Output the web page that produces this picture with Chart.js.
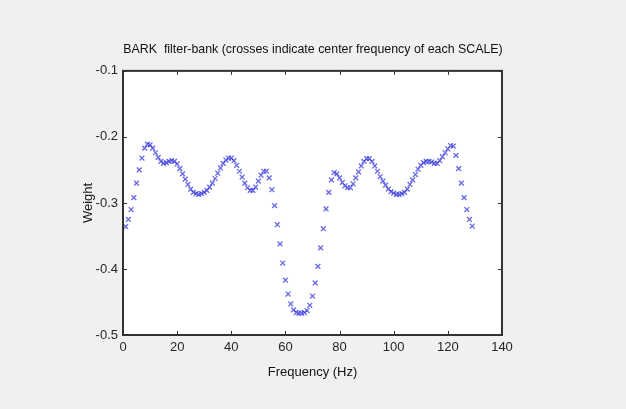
<!DOCTYPE html>
<html>
<head>
<meta charset="utf-8">
<script src="https://cdn.jsdelivr.net/npm/chart.js@4/dist/chart.umd.min.js"></script>
<style>
  html, body { margin: 0; padding: 0; background: #f0f0f0; }
  canvas { display: block; }
</style>
</head>
<body>
<canvas id="barkChart" width="626" height="409"></canvas>
<script>
// centre frequency index of each scale (1..129)
const freqs = [
  1, 2, 3, 4, 5, 6, 7, 8, 9, 10, 11, 12, 13, 14, 15, 16, 17, 18, 19, 20,
  21, 22, 23, 24, 25, 26, 27, 28, 29, 30, 31, 32, 33, 34, 35, 36, 37, 38, 39, 40,
  41, 42, 43, 44, 45, 46, 47, 48, 49, 50, 51, 52, 53, 54, 55, 56, 57, 58, 59, 60,
  61, 62, 63, 64, 65, 66, 67, 68, 69, 70, 71, 72, 73, 74, 75, 76, 77, 78, 79, 80,
  81, 82, 83, 84, 85, 86, 87, 88, 89, 90, 91, 92, 93, 94, 95, 96, 97, 98, 99, 100,
  101, 102, 103, 104, 105, 106, 107, 108, 109, 110, 111, 112, 113, 114, 115, 116, 117, 118, 119, 120,
  121, 122, 123, 124, 125, 126, 127, 128, 129
];
// weight
const weights = [
  -0.336, -0.325, -0.310, -0.292, -0.270, -0.250, -0.232, -0.217, -0.211, -0.212,
  -0.217, -0.224, -0.231, -0.237, -0.240, -0.239, -0.237, -0.236, -0.237, -0.241,
  -0.248, -0.256, -0.264, -0.272, -0.279, -0.284, -0.286, -0.287, -0.286, -0.284,
  -0.281, -0.276, -0.270, -0.263, -0.255, -0.247, -0.240, -0.235, -0.232, -0.232,
  -0.236, -0.243, -0.252, -0.261, -0.270, -0.277, -0.281, -0.281, -0.276, -0.267,
  -0.258, -0.252, -0.252, -0.262, -0.280, -0.304, -0.333, -0.362, -0.391, -0.417,
  -0.438, -0.453, -0.462, -0.466, -0.467, -0.467, -0.466, -0.463, -0.455, -0.441,
  -0.421, -0.396, -0.368, -0.339, -0.309, -0.284, -0.265, -0.254, -0.256, -0.262,
  -0.269, -0.274, -0.277, -0.277, -0.271, -0.262, -0.253, -0.244, -0.237, -0.233,
  -0.233, -0.237, -0.244, -0.252, -0.260, -0.267, -0.273, -0.279, -0.283, -0.285,
  -0.287, -0.287, -0.286, -0.284, -0.279, -0.272, -0.265, -0.257, -0.249, -0.243,
  -0.239, -0.237, -0.237, -0.238, -0.240, -0.240, -0.236, -0.230, -0.224, -0.218,
  -0.213, -0.214, -0.228, -0.248, -0.270, -0.292, -0.310, -0.325, -0.335
];
const xTicks = [0, 20, 40, 60, 80, 100, 120, 140];
const yTicks = [-0.5, -0.4, -0.3, -0.2, -0.1];
const yTickLabels = ['-0.5', '-0.4', '-0.3', '-0.2', '-0.1'];

const FONT = 'Liberation Sans, Arial, Helvetica, sans-serif';

// white axes box, frame and inward ticks like the matlab figure
const axesBox = {
  id: 'axesBox',
  beforeDraw(chart) {
    const { ctx, chartArea: a } = chart;
    ctx.save();
    ctx.fillStyle = '#ffffff';
    ctx.fillRect(a.left, a.top, a.right - a.left, a.bottom - a.top);
    ctx.restore();
  },
  afterDraw(chart) {
    const { ctx, chartArea: a, scales } = chart;
    const len = 4;
    ctx.save();
    ctx.strokeStyle = '#333333';
    ctx.lineWidth = 1;
    ctx.beginPath();
    xTicks.forEach((v) => {
      const px = Math.round(scales.x.getPixelForValue(v)) + 0.5;
      ctx.moveTo(px, a.bottom); ctx.lineTo(px, a.bottom - len);
      ctx.moveTo(px, a.top); ctx.lineTo(px, a.top + len);
    });
    yTicks.forEach((v) => {
      const py = Math.round(scales.y.getPixelForValue(v)) + 0.5;
      ctx.moveTo(a.left, py); ctx.lineTo(a.left + len, py);
      ctx.moveTo(a.right, py); ctx.lineTo(a.right - len, py);
    });
    ctx.stroke();
    ctx.lineWidth = 2;
    ctx.strokeRect(a.left, a.top, a.right - a.left, a.bottom - a.top);
    ctx.restore();
  },
};

new Chart(document.getElementById('barkChart'), {
  type: 'scatter',
  data: {
    datasets: [{
      data: freqs.map((f, i) => ({ x: f, y: weights[i] })),
      pointStyle: 'crossRot',
      pointRadius: 3.4,
      pointBorderWidth: 1.3,
      borderColor: 'rgba(40, 40, 220, 0.7)',
      backgroundColor: 'rgba(40, 40, 220, 0.7)',
    }],
  },
  options: {
    responsive: false,
    animation: false,
    events: [],
    layout: { padding: 0 },
    plugins: {
      legend: { display: false },
      tooltip: { enabled: false },
      title: {
        display: true,
        text: 'BARK  filter-bank (crosses indicate center frequency of each SCALE)',
        color: '#111111',
        font: { family: FONT, size: 12.4, weight: 'normal' },
        padding: { top: 42, bottom: 14 },
      },
    },
    scales: {
      x: {
        type: 'linear',
        min: 0,
        max: 140,
        afterBuildTicks: (s) => { s.ticks = xTicks.map((v) => ({ value: v })); },
        afterFit: (s) => { s.height = 74; },
        border: { display: false },
        grid: { display: false, drawTicks: false },
        ticks: {
          padding: 5,
          color: '#262626',
          font: { family: FONT, size: 13 },
          maxRotation: 0,
        },
        title: {
          display: true,
          text: 'Frequency (Hz)',
          color: '#111111',
          font: { family: FONT, size: 13 },
          padding: { top: 0, bottom: 29 },
        },
      },
      y: {
        type: 'linear',
        min: -0.5,
        max: -0.1,
        afterBuildTicks: (s) => { s.ticks = yTicks.map((v) => ({ value: v })); },
        afterFit: (s) => { s.width = 123; },
        border: { display: false },
        grid: { display: false, drawTicks: false },
        ticks: {
          padding: 5,
          color: '#262626',
          font: { family: FONT, size: 13 },
          callback: (v) => yTickLabels[yTicks.indexOf(Math.round(v * 10) / 10)],
        },
        title: {
          display: true,
          text: 'Weight',
          color: '#111111',
          font: { family: FONT, size: 13 },
          padding: { top: 81, bottom: 0 },
        },
      },
      // empty right axis that only reserves the figure margin
      yRight: {
        type: 'linear',
        position: 'right',
        min: -0.5,
        max: -0.1,
        afterFit: (s) => { s.width = 124; },
        border: { display: false },
        grid: { display: false, drawTicks: false },
        ticks: { display: false },
      },
    },
  },
  plugins: [axesBox],
});
</script>
</body>
</html>
